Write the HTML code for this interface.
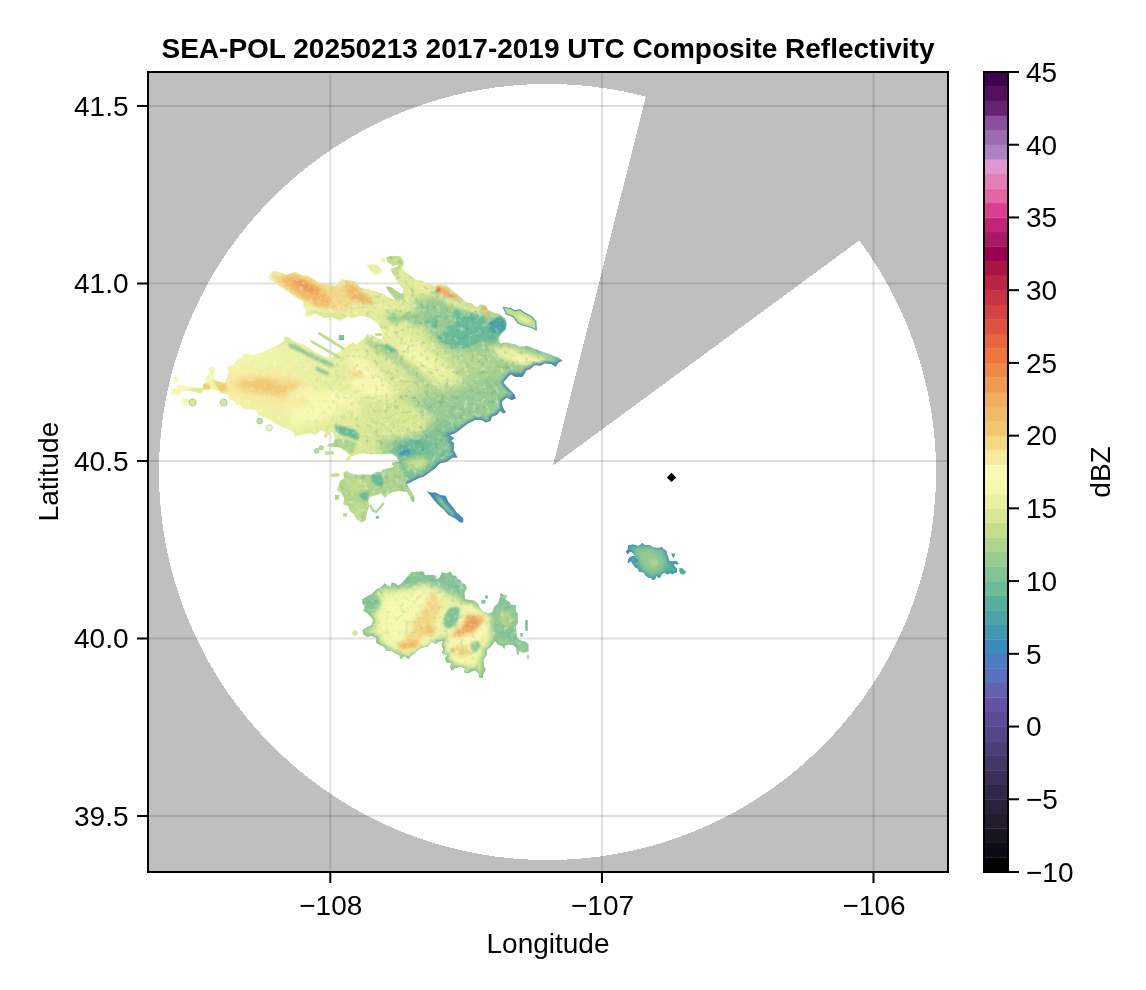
<!DOCTYPE html>
<html><head><meta charset="utf-8"><title>SEA-POL Composite Reflectivity</title>
<style>
html,body{margin:0;padding:0;background:#fff;}
svg{display:block;}
text{font-family:"Liberation Sans",sans-serif;fill:#000;}
.t{font-size:28px;}
</style></head><body>
<svg width="1146" height="990" viewBox="0 0 1146 990">
<rect width="1146" height="990" fill="#fff"/>
<defs>
<clipPath id="axclip"><rect x="148" y="72" width="800" height="800"/></clipPath>
<filter id="b1" x="-20%" y="-20%" width="140%" height="140%"><feGaussianBlur stdDeviation="1"/></filter>
<filter id="b2" x="-20%" y="-20%" width="140%" height="140%"><feGaussianBlur stdDeviation="2"/></filter>
<filter id="b3" x="-30%" y="-30%" width="160%" height="160%"><feGaussianBlur stdDeviation="3.5"/></filter>
<filter id="b5" x="-30%" y="-30%" width="160%" height="160%"><feGaussianBlur stdDeviation="6"/></filter>
</defs>

<rect x="148" y="72" width="800" height="800" fill="#bfbfbf"/>
<polygon points="553,465.5 859.2,240.5 862.5,244.8 865.6,249.3 868.7,253.7 871.7,258.3 874.7,262.8 877.6,267.4 880.5,272.1 883.2,276.8 885.9,281.5 888.6,286.2 891.2,291 893.7,295.9 896.1,300.7 898.5,305.6 900.8,310.5 903,315.5 905.2,320.5 907.3,325.5 909.3,330.6 911.2,335.7 913.1,340.8 914.9,345.9 916.6,351 918.3,356.2 919.9,361.4 921.4,366.7 922.8,371.9 924.2,377.2 925.5,382.5 926.7,387.8 927.9,393.1 928.9,398.4 929.9,403.8 930.9,409.1 931.7,414.5 932.5,419.9 933.2,425.3 933.8,430.7 934.3,436.1 934.8,441.5 935.2,446.9 935.5,452.4 935.7,457.8 935.9,463.2 936,468.7 936,474.1 935.9,479.6 935.8,485 935.6,490.4 935.3,495.9 934.9,501.3 934.4,506.7 933.9,512.1 933.3,517.5 932.6,522.9 931.9,528.3 931.1,533.7 930.2,539.1 929.2,544.4 928.1,549.7 927,555.1 925.8,560.4 924.5,565.7 923.2,570.9 921.7,576.2 920.2,581.4 918.7,586.6 917,591.8 915.3,597 913.5,602.1 911.6,607.2 909.7,612.3 907.7,617.4 905.6,622.4 903.5,627.4 901.3,632.3 899,637.3 896.6,642.2 894.2,647.1 891.7,651.9 889.2,656.7 886.5,661.5 883.8,666.2 881.1,670.9 878.3,675.5 875.4,680.1 872.4,684.7 869.4,689.2 866.3,693.7 863.2,698.2 860,702.6 856.7,706.9 853.4,711.2 850,715.5 846.5,719.7 843,723.9 839.5,728 835.8,732 832.2,736.1 828.4,740 824.6,743.9 820.8,747.8 816.9,751.6 812.9,755.3 808.9,759 804.9,762.6 800.8,766.2 796.6,769.7 792.4,773.2 788.2,776.6 783.9,779.9 779.5,783.2 775.1,786.4 770.7,789.6 766.2,792.7 761.7,795.7 757.1,798.7 752.5,801.6 747.9,804.4 743.2,807.2 738.5,809.9 733.7,812.5 728.9,815.1 724.1,817.6 719.2,820.1 714.3,822.4 709.4,824.7 704.4,827 699.4,829.1 694.4,831.2 689.3,833.2 684.2,835.2 679.1,837.1 674,838.9 668.8,840.6 663.6,842.3 658.4,843.9 653.2,845.4 647.9,846.8 642.7,848.2 637.4,849.5 632.1,850.7 626.7,851.8 621.4,852.9 616,853.9 610.7,854.8 605.3,855.7 599.9,856.5 594.5,857.1 589.1,857.8 583.7,858.3 578.3,858.8 572.8,859.2 567.4,859.5 561.9,859.7 556.5,859.9 551,860 545.6,860 540.2,859.9 534.7,859.8 529.3,859.6 523.8,859.3 518.4,858.9 513,858.5 507.5,857.9 502.1,857.3 496.7,856.7 491.3,855.9 485.9,855.1 480.6,854.2 475.2,853.2 469.9,852.2 464.5,851.1 459.2,849.9 453.9,848.6 448.7,847.2 443.4,845.8 438.2,844.3 432.9,842.8 427.8,841.1 422.6,839.4 417.4,837.6 412.3,835.8 407.2,833.8 402.2,831.8 397.1,829.8 392.1,827.6 387.1,825.4 382.2,823.1 377.3,820.8 372.4,818.4 367.6,815.9 362.8,813.3 358,810.7 353.2,808 348.5,805.3 343.9,802.4 339.3,799.6 334.7,796.6 330.2,793.6 325.7,790.5 321.2,787.4 316.8,784.2 312.4,780.9 308.1,777.6 303.9,774.2 299.6,770.8 295.5,767.3 291.4,763.7 287.3,760.1 283.3,756.4 279.3,752.7 275.4,748.9 271.5,745.1 267.7,741.2 264,737.3 260.3,733.3 256.6,729.2 253.1,725.1 249.5,721 246.1,716.8 242.7,712.5 239.3,708.2 236,703.9 232.8,699.5 229.6,695.1 226.5,690.6 223.5,686.1 220.5,681.5 217.6,676.9 214.8,672.3 212,667.6 209.3,662.9 206.6,658.2 204.1,653.4 201.5,648.5 199.1,643.7 196.7,638.8 194.4,633.9 192.2,628.9 190,623.9 187.9,618.9 185.9,613.8 183.9,608.8 182,603.6 180.2,598.5 178.5,593.4 176.8,588.2 175.2,583 173.7,577.8 172.3,572.5 170.9,567.3 169.6,562 168.4,556.7 167.2,551.4 166.1,546 165.1,540.7 164.2,535.3 163.4,529.9 162.6,524.6 161.9,519.2 161.3,513.8 160.7,508.3 160.2,502.9 159.8,497.5 159.5,492.1 159.3,486.6 159.1,481.2 159,475.8 159,470.3 159.1,464.9 159.2,459.4 159.4,454 159.7,448.6 160.1,443.2 160.5,437.7 161,432.3 161.6,426.9 162.3,421.5 163.1,416.1 163.9,410.7 164.8,405.4 165.7,400 166.8,394.7 167.9,389.4 169.1,384.1 170.4,378.8 171.7,373.5 173.1,368.2 174.6,363 176.2,357.8 177.8,352.6 179.6,347.5 181.3,342.3 183.2,337.2 185.1,332.1 187.1,327.1 189.2,322 191.3,317 193.5,312 195.8,307.1 198.2,302.2 200.6,297.3 203.1,292.5 205.6,287.7 208.3,282.9 210.9,278.2 213.7,273.5 216.5,268.8 219.4,264.2 222.4,259.6 225.4,255.1 228.4,250.6 231.6,246.2 234.8,241.8 238,237.4 241.4,233.1 244.7,228.8 248.2,224.6 251.7,220.5 255.3,216.4 258.9,212.3 262.5,208.3 266.3,204.3 270.1,200.4 273.9,196.5 277.8,192.7 281.7,189 285.7,185.3 289.8,181.7 293.9,178.1 298,174.6 302.2,171.1 306.5,167.7 310.8,164.3 315.1,161.1 319.5,157.8 323.9,154.7 328.4,151.6 332.9,148.5 337.5,145.6 342.1,142.7 346.8,139.8 351.4,137 356.2,134.3 360.9,131.7 365.7,129.1 370.5,126.6 375.4,124.1 380.3,121.8 385.2,119.5 390.2,117.2 395.2,115.1 400.2,113 405.3,110.9 410.4,109 415.5,107.1 420.6,105.3 425.8,103.5 431,101.9 436.2,100.3 441.4,98.8 446.6,97.3 451.9,95.9 457.2,94.6 462.5,93.4 467.8,92.2 473.2,91.2 478.5,90.2 483.9,89.2 489.3,88.4 494.7,87.6 500.1,86.9 505.5,86.3 510.9,85.7 516.3,85.3 521.7,84.9 527.2,84.5 532.6,84.3 538.1,84.1 543.5,84 549,84 554.4,84.1 559.9,84.2 565.3,84.4 570.7,84.7 576.2,85.1 581.6,85.5 587,86 592.4,86.6 597.8,87.3 603.2,88 608.6,88.8 614,89.7 619.4,90.7 624.7,91.7 630,92.9 635.3,94 640.6,95.3 645.9,96.7" fill="#fff" shape-rendering="crispEdges"/>
<rect x="329.3" y="72" width="2" height="800" fill="#000" fill-opacity="0.12"/>
<rect x="601" y="72" width="2" height="800" fill="#000" fill-opacity="0.12"/>
<rect x="872.5" y="72" width="2" height="800" fill="#000" fill-opacity="0.12"/>
<rect x="148" y="105" width="800" height="2" fill="#000" fill-opacity="0.12"/>
<rect x="148" y="282.5" width="800" height="2" fill="#000" fill-opacity="0.12"/>
<rect x="148" y="460" width="800" height="2" fill="#000" fill-opacity="0.12"/>
<rect x="148" y="637.5" width="800" height="2" fill="#000" fill-opacity="0.12"/>
<rect x="148" y="815" width="800" height="2" fill="#000" fill-opacity="0.12"/>
<defs>
<clipPath id="cbody"><polygon points="268.3,276.7 273.3,270.8 278.3,271.7 286.7,275 295,271.7 301.7,275 308.3,275.8 313.3,279.2 321.7,284.2 328.3,284.2 335,285.8 341.7,279.2 348.3,280 356,281.7 360,287.5 371.7,290 382.5,293.7 393.7,300 395,299.3 387.3,290.3 385.8,286.3 390.7,287 395.2,290 400,293 401.7,294 403.7,290 397.2,281.3 391.2,270.8 390.8,269.2 396.7,266.7 399.2,264.2 392.5,265.8 387.5,261.7 385.8,257.5 391.7,255.8 400,256.3 403.7,260.8 403.3,265.8 400.8,267.5 405,271.7 410.8,275.8 416.7,280 421.7,280.8 427.5,283.3 433.3,285.8 440.8,284.2 446.7,285.8 451.7,290 456.7,293.3 461.7,298.3 466.7,302.5 471.7,303.3 476.7,307.5 480,304.2 485,305 488.3,310 493.3,312.5 500,314.2 505,318.3 506.7,323.3 505.8,329.2 501.7,333.3 498.3,338.3 500,343.3 506.7,342.5 515,344.2 520,346.7 526.7,345.8 533.3,348.3 540,350.8 546.7,353.3 553.3,355.8 558.3,357.5 562.5,360.8 558.3,362.5 555.8,366.7 551.7,364.2 545,363.3 540,365.8 535,365 530,369.2 526.7,370 522.5,376.7 515,376.7 510.8,374.2 506.7,378.3 503.3,382.5 506.7,386.7 510.8,390.8 514.2,394.2 515.8,398.3 511.7,400 506.7,397.5 501.7,401.7 502.5,406.7 505.8,412.5 503.3,413.3 500,410.8 496.7,415 491.7,416.7 490.8,420.8 485.8,422.5 481.7,420 475,420 468.3,423.3 461.7,428.3 455,433.3 449.2,435 454.2,438.3 450.8,440.8 454.2,443.3 453.3,450 457.5,457.5 452.5,457.5 446.7,461.7 440,463.3 435,468.3 428.3,473.3 423.3,476.7 420,477.5 413.3,480.8 406.7,484.2 409.2,488.3 412.5,493.3 414.7,498.3 414.2,502.5 410.8,500.8 410,496.7 406.7,491.7 400,490.8 393.3,491.7 388.3,494.2 385,498.3 380.8,493.3 376.7,495 370,496.7 368.3,500 369.2,506.7 366.7,513.3 365.8,520 361.7,522.5 356.7,519.2 353.3,513.3 350,511.7 348.3,505.8 343.3,505 344.2,498.3 341.7,493.3 336.7,490.8 338.3,486.7 340,480.8 344.2,478.3 343.3,473.3 346.7,470.8 350,473.3 358.3,475 363.3,474.2 371.7,475 376.7,471.7 380.8,471.7 383.3,469.2 390,468.3 394.2,466.7 391.7,463.3 395,461.7 399.2,461.7 396.7,456.7 391.7,453.3 381.7,454.2 370,454.2 363.3,453.3 356.7,454.2 350.8,456.7 349.2,461.7 345,461.7 346.7,457.5 350,455.8 345,450.8 340,447.5 334.2,446.7 327.5,446.7 327.5,444.2 333.3,443.3 335,438.3 332.5,431.7 330,432.5 326.7,438.3 323.3,436.7 325,431.7 320.8,430 315,435.8 311.7,433.3 305,434.2 298.3,435 295,437.5 294.2,433.3 290,430 280,426 270,420 258.3,415 255.8,410 246.7,409.2 241.7,408.3 241.7,405.8 236.7,405 234.2,400.8 229.2,400 228.3,395 220.8,393.3 218.3,390.8 211.7,389.2 203.3,390 202.5,393.3 198.3,393.3 190,390.8 180.8,391.7 179.2,394.7 170.8,394.2 170.8,391.7 171.7,389.2 176.7,388.3 177.5,385 183.3,385.8 190,387.5 195.8,387.5 202.5,388.3 203.3,384.2 206.7,381.7 205,379.2 209.2,373.3 209.2,367.5 214.2,366.7 215,370 213.3,375 214.2,380 220,381.7 225,383.3 227.5,376.7 228.3,370 227.5,366.7 233.3,365 236.7,360 243.3,356.7 243.3,353.3 248.3,354.2 255,355 263.3,351.7 266.7,350 275,346.7 280,344.2 284.2,340.8 284.2,336.7 288.3,336.7 293.3,340.8 303.3,344.2 315,351.7 325,356.7 331.7,358.3 341.7,350 348.3,345 352.5,342.5 356,344.2 356.7,345 360,340.8 365,338.3 366.7,334.2 371.7,335 378.3,338.3 382.5,340 382.5,333.3 380.8,328.3 376.7,322.5 371.7,319.2 366.7,316.7 360,315.8 355,317.5 350,318.3 348.3,316.7 340,320.8 331.7,316.7 325,318.3 315,313.3 308.3,317.5 304.2,315.8 306.7,311.7 303.3,306.7 303.3,301.7 295,296.7 288.3,291.7 281.7,287.5 275,282.5 270,280"/></clipPath>
<linearGradient id="gbody" gradientUnits="userSpaceOnUse" x1="200" y1="300" x2="520" y2="440"><stop offset="0" stop-color="#f6f8ae"/><stop offset="0.4" stop-color="#e9f0a0"/><stop offset="0.62" stop-color="#d9e794"/><stop offset="0.82" stop-color="#afd48e"/><stop offset="1" stop-color="#84c396"/></linearGradient>
</defs>
<defs><filter id="nz" x="0" y="0" width="100%" height="100%" color-interpolation-filters="sRGB"><feTurbulence type="fractalNoise" baseFrequency="0.22" numOctaves="2" seed="7" result="n"/><feColorMatrix in="n" type="matrix" values="0 0 0 0 1  0 0 0 0 1  0 0 0 0 1  3.2 0 0 0 -1.75"/></filter><filter id="nz2" x="0" y="0" width="100%" height="100%" color-interpolation-filters="sRGB"><feTurbulence type="fractalNoise" baseFrequency="0.2" numOctaves="2" seed="23" result="n"/><feColorMatrix in="n" type="matrix" values="0 0 0 0 0.25  0 0 0 0 0.55  0 0 0 0 0.45  0 3.2 0 0 -1.75"/></filter></defs>
<g id="echo">
<polygon points="268.3,276.7 273.3,270.8 278.3,271.7 286.7,275 295,271.7 301.7,275 308.3,275.8 313.3,279.2 321.7,284.2 328.3,284.2 335,285.8 341.7,279.2 348.3,280 356,281.7 360,287.5 371.7,290 382.5,293.7 393.7,300 395,299.3 387.3,290.3 385.8,286.3 390.7,287 395.2,290 400,293 401.7,294 403.7,290 397.2,281.3 391.2,270.8 390.8,269.2 396.7,266.7 399.2,264.2 392.5,265.8 387.5,261.7 385.8,257.5 391.7,255.8 400,256.3 403.7,260.8 403.3,265.8 400.8,267.5 405,271.7 410.8,275.8 416.7,280 421.7,280.8 427.5,283.3 433.3,285.8 440.8,284.2 446.7,285.8 451.7,290 456.7,293.3 461.7,298.3 466.7,302.5 471.7,303.3 476.7,307.5 480,304.2 485,305 488.3,310 493.3,312.5 500,314.2 505,318.3 506.7,323.3 505.8,329.2 501.7,333.3 498.3,338.3 500,343.3 506.7,342.5 515,344.2 520,346.7 526.7,345.8 533.3,348.3 540,350.8 546.7,353.3 553.3,355.8 558.3,357.5 562.5,360.8 558.3,362.5 555.8,366.7 551.7,364.2 545,363.3 540,365.8 535,365 530,369.2 526.7,370 522.5,376.7 515,376.7 510.8,374.2 506.7,378.3 503.3,382.5 506.7,386.7 510.8,390.8 514.2,394.2 515.8,398.3 511.7,400 506.7,397.5 501.7,401.7 502.5,406.7 505.8,412.5 503.3,413.3 500,410.8 496.7,415 491.7,416.7 490.8,420.8 485.8,422.5 481.7,420 475,420 468.3,423.3 461.7,428.3 455,433.3 449.2,435 454.2,438.3 450.8,440.8 454.2,443.3 453.3,450 457.5,457.5 452.5,457.5 446.7,461.7 440,463.3 435,468.3 428.3,473.3 423.3,476.7 420,477.5 413.3,480.8 406.7,484.2 409.2,488.3 412.5,493.3 414.7,498.3 414.2,502.5 410.8,500.8 410,496.7 406.7,491.7 400,490.8 393.3,491.7 388.3,494.2 385,498.3 380.8,493.3 376.7,495 370,496.7 368.3,500 369.2,506.7 366.7,513.3 365.8,520 361.7,522.5 356.7,519.2 353.3,513.3 350,511.7 348.3,505.8 343.3,505 344.2,498.3 341.7,493.3 336.7,490.8 338.3,486.7 340,480.8 344.2,478.3 343.3,473.3 346.7,470.8 350,473.3 358.3,475 363.3,474.2 371.7,475 376.7,471.7 380.8,471.7 383.3,469.2 390,468.3 394.2,466.7 391.7,463.3 395,461.7 399.2,461.7 396.7,456.7 391.7,453.3 381.7,454.2 370,454.2 363.3,453.3 356.7,454.2 350.8,456.7 349.2,461.7 345,461.7 346.7,457.5 350,455.8 345,450.8 340,447.5 334.2,446.7 327.5,446.7 327.5,444.2 333.3,443.3 335,438.3 332.5,431.7 330,432.5 326.7,438.3 323.3,436.7 325,431.7 320.8,430 315,435.8 311.7,433.3 305,434.2 298.3,435 295,437.5 294.2,433.3 290,430 280,426 270,420 258.3,415 255.8,410 246.7,409.2 241.7,408.3 241.7,405.8 236.7,405 234.2,400.8 229.2,400 228.3,395 220.8,393.3 218.3,390.8 211.7,389.2 203.3,390 202.5,393.3 198.3,393.3 190,390.8 180.8,391.7 179.2,394.7 170.8,394.2 170.8,391.7 171.7,389.2 176.7,388.3 177.5,385 183.3,385.8 190,387.5 195.8,387.5 202.5,388.3 203.3,384.2 206.7,381.7 205,379.2 209.2,373.3 209.2,367.5 214.2,366.7 215,370 213.3,375 214.2,380 220,381.7 225,383.3 227.5,376.7 228.3,370 227.5,366.7 233.3,365 236.7,360 243.3,356.7 243.3,353.3 248.3,354.2 255,355 263.3,351.7 266.7,350 275,346.7 280,344.2 284.2,340.8 284.2,336.7 288.3,336.7 293.3,340.8 303.3,344.2 315,351.7 325,356.7 331.7,358.3 341.7,350 348.3,345 352.5,342.5 356,344.2 356.7,345 360,340.8 365,338.3 366.7,334.2 371.7,335 378.3,338.3 382.5,340 382.5,333.3 380.8,328.3 376.7,322.5 371.7,319.2 366.7,316.7 360,315.8 355,317.5 350,318.3 348.3,316.7 340,320.8 331.7,316.7 325,318.3 315,313.3 308.3,317.5 304.2,315.8 306.7,311.7 303.3,306.7 303.3,301.7 295,296.7 288.3,291.7 281.7,287.5 275,282.5 270,280" fill="url(#gbody)"/>
<g clip-path="url(#cbody)">
<polygon points="271.7,272.5 291.7,272.5 315,278.3 331.7,285.8 356,283.3 356,305 341.7,311.7 325,308.3 308.3,303.3 298.3,296.7 285,288.3 273.3,280" fill="#f3d985" filter="url(#b2)" opacity="1"/>
<polygon points="280,277.5 288.3,275 296.7,275 303.3,279.2 311.7,283.3 320,288.3 325,293.3 330,295.8 331.7,301.7 325,306.7 315,305 308.3,300 298.3,295 290,290 283.3,284.2" fill="#f0ba68" filter="url(#b2)" opacity="1"/>
<polygon points="293.3,279.2 301.7,280 311.7,285.8 320,290.8 318.3,295 308.3,291.7 300,287.5 294.2,283.3" fill="#ee9a52" filter="url(#b2)" opacity="1"/>
<polygon points="345,283.3 356,285.8 361.7,291.7 371.7,298.3 373.3,303.3 365,305 356,300 346.7,295" fill="#f0ba68" filter="url(#b2)" opacity="1"/>
<polygon points="304.2,315.8 315,313.3 325,318.3 340,320.8 348.3,316.7 348.3,314.2 331.7,313.3 315,310.8 306.7,311.7" fill="#d9e794" filter="url(#b1)" opacity="1"/>
<polygon points="215,381.7 228.3,373.3 245,373.3 265,370 291.7,373.3 311.7,383.3 315,400 301.7,410 281.7,408.3 258.3,405 238.3,396.7 221.7,393.3" fill="#f6eaa0" filter="url(#b3)" opacity="1"/>
<polygon points="235,381.7 251.7,378.3 268.3,378.3 285,383.3 301.7,381.7 295,391.7 281.7,396.7 265,393.3 251.7,391.7 238.3,388.3" fill="#f1c870" filter="url(#b3)" opacity="1"/>
<polygon points="255,381.7 268.3,380 271.7,386.7 261.7,390 255,386.7" fill="#f1c870" filter="url(#b2)" opacity="1"/>
<polygon points="202.5,383.3 209.2,383.3 210,389.2 203.3,389.7" fill="#f1c870" filter="url(#b1)" opacity="1"/>
<polygon points="213.3,380 225,383.3 228.3,390 221.7,393.3 218.3,388.3" fill="#f1c870" filter="url(#b1)" opacity="1"/>
<polygon points="190,387.5 202.5,388.3 202.5,393.3 190,390.8" fill="#d9e794" filter="url(#b1)" opacity="1"/>
<polygon points="287.5,342.5 293.3,343.3 305,350 320,357.5 333.3,363.3 334.2,367.5 325,365 311.7,358.3 298.3,351.7 289.2,347.5" fill="#99cb92" filter="url(#b1)" opacity="1"/>
<polygon points="316.7,366.7 329.2,372.5 328.3,375.8 315.8,370" fill="#84c396" filter="url(#b1)" opacity="1"/>
<polygon points="275,346.7 284.2,336.7 288.3,336.7 291.7,340.8 281.7,345.8" fill="#d9e794" filter="url(#b1)" opacity="1"/>
<polygon points="380,328.3 393.3,325 413.3,336.7 436.7,353.3 456.7,373.3 466.7,393.3 453.3,400 436.7,383.3 416.7,366.7 396.7,350 383.3,340" fill="#e9f0a0" filter="url(#b3)" opacity="1"/>
<polygon points="400,343.3 420,350 436.7,363.3 430,370 413.3,360 400,351.7" fill="#f6f8ae" filter="url(#b3)" opacity="0.8"/>
<polygon points="385.8,315 393.3,311.7 400,316.7 403.3,313.3 416.7,312.5 423.3,315 421.7,323.3 416.7,327.5 410,321.7 403.3,320 398.3,323.3 391.7,323.3 386.7,320" fill="#99cb92" filter="url(#b2)" opacity="1"/>
<polygon points="413.3,300 436.7,296.7 456.7,305 476.7,311.7 493.3,316.7 505,320 506.7,330 500,340 493.3,350 476.7,353.3 456.7,351.7 443.3,346.7 433.3,336.7 423.3,326.7 416.7,313.3" fill="#99cb92" filter="url(#b3)" opacity="1"/>
<polygon points="436.7,336.7 443.3,333.3 450,330 445,328.3 448.3,325 454.2,325 456.7,320 453.3,311.7 456.7,308.3 460.8,313.3 466.7,316.7 470,310 476.7,315 483.3,314.2 485,320 488.3,323.3 493.3,320 500,316.7 505.8,321.7 505.8,329.2 500,333.3 496.7,340 491.7,343.3 483.3,340 478.3,343.3 473.3,345 466.7,346.7 460,346.7 453.3,348.3 446.7,343.3 440,341.7" fill="#6bba98" filter="url(#b1)" opacity="1"/>
<polygon points="488.3,323.3 493.3,320 500,316.7 505.8,321.7 505.8,329.2 500,333.3 495,333.3 490,330" fill="#4ca3a5" filter="url(#b1)" opacity="1"/>
<ellipse cx="434.5" cy="323.3333333333333" rx="3.2" ry="5" fill="#6bba98" filter="url(#b1)" opacity="1" transform="rotate(0 434.5 323.3333333333333)"/>
<ellipse cx="427.8333333333333" cy="322.5" rx="2.3" ry="3" fill="#6bba98" filter="url(#b1)" opacity="1" transform="rotate(0 427.8333333333333 322.5)"/>
<polygon points="416.7,280.8 427.5,283.3 433.3,285.8 430,291.7 421.7,291.7 417.5,287.5" fill="#f6eaa0" filter="url(#b2)" opacity="1"/>
<polygon points="435.8,286.7 443.3,287.5 450,291.7 456.7,296.7 460,300 453.3,299.2 445,295.8 438.3,292.5" fill="#efad60" filter="url(#b1)" opacity="1"/>
<ellipse cx="438.3333333333333" cy="289.6666666666667" rx="1.6" ry="2.4" fill="#de5340" filter="url(#b1)" opacity="1" transform="rotate(0 438.3333333333333 289.6666666666667)"/>
<polygon points="481.7,305.8 486.7,307.5 489.2,315 485.8,315.8 483.3,310.8" fill="#f0ba68" filter="url(#b1)" opacity="1"/>
<polygon points="443.3,300 450,300 466.7,305 476.7,308.3 483.3,316.7 476.7,313.3 463.3,308.3 450,305" fill="#e9f0a0" filter="url(#b2)" opacity="1"/>
<polygon points="385.8,255 405,255 405,268.3 400,270 393.3,278.3 390,270 391.7,266.7 385.8,261.7" fill="#c3dd8b" filter="url(#b1)" opacity="1"/>
<polygon points="385.8,285.8 391.7,286.7 401.7,293.7 405,300 395,300 387,290" fill="#afd48e" filter="url(#b1)" opacity="1"/>
<polygon points="375,345 381.7,344.2 388.3,345 396.7,350 398.3,354.2 391.7,353.3 383.3,351.7 377.5,349.2" fill="#6bba98" filter="url(#b1)" opacity="1"/>
<polygon points="366.7,336.7 376.7,343.3 400,356.7 423.3,376.7 433.3,388.3 428.3,391.7 416.7,380 396.7,363.3 375,350 365,343.3" fill="#afd48e" filter="url(#b2)" opacity="1"/>
<polygon points="350,350 363.3,356.7 376.7,370 390,386.7 393.3,406.7 376.7,415 350,415" fill="#f6f8ae" filter="url(#b3)" opacity="1"/>
<polygon points="350,370 360,371.7 365,376.7 356.7,378.3 350,376.7" fill="#f3d985" filter="url(#b2)" opacity="1"/>
<polygon points="490,348.3 506.7,346.7 523.3,351.7 543.3,356.7 553.3,360 540,363.3 526.7,365 513.3,363.3 500,358.3" fill="#e9f0a0" filter="url(#b2)" opacity="1"/>
<polygon points="510,356.7 523.3,356.7 536.7,360 526.7,363.3 513.3,361.7" fill="#f6f8ae" filter="url(#b2)" opacity="1"/>
<polygon points="513.3,372.5 523.3,373.3 526.7,370 522.5,377.5 515,377.5" fill="#3d8bbd" filter="url(#b1)" opacity="1"/>
<polygon points="493.3,391.7 498.3,393.3 501.7,398.3 497.5,398.3 494.2,395.8" fill="#5a72bd" filter="url(#b1)" opacity="1"/>
<polygon points="510,395 516.7,395.8 515.8,399.2 510.8,400" fill="#3d8bbd" filter="url(#b1)" opacity="1"/>
<polygon points="483.3,381.7 491.7,381.7 495,388.3 490,395 485.8,393.3 486.7,386.7" fill="#58ae9e" filter="url(#b1)" opacity="1"/>
<ellipse cx="504.1666666666667" cy="412.5" rx="1.6" ry="1.6" fill="#6552a5" filter="url(#b1)" opacity="1" transform="rotate(0 504.1666666666667 412.5)"/>
<polygon points="383.3,413.3 406.7,400 440,390 481,380 506.7,373.3 506.7,406.7 481,420.8 455,430 453.3,456.7 433.3,470 413.3,480.8 396.7,476.7 390,460 380,440" fill="#99cb92" filter="url(#b5)" opacity="1"/>
<polygon points="393.3,440 416.7,433.3 440,431.7 455,430 453.3,456.7 440,465 426.7,475 406.7,483.3 396.7,476.7 390,463.3 393.3,453.3" fill="#99cb92" filter="url(#b3)" opacity="1"/>
<polygon points="395,435 420,428 455,420 470,440 450,465 420,480 400,490 385,470" fill="#84c396" filter="url(#b3)" opacity="1"/>
<polygon points="393.3,446.7 406.7,440 423.3,438.3 433.3,445 426.7,453.3 413.3,456.7 400,456.7" fill="#6bba98" filter="url(#b2)" opacity="1"/>
<polygon points="399.2,450 410,449.2 410.8,454.2 403.3,455.8 398.3,454.2" fill="#4296b2" filter="url(#b1)" opacity="1"/>
<polygon points="406.7,460 423.3,456.7 430,463.3 420,470 406.7,468.3" fill="#c3dd8b" filter="url(#b2)" opacity="1"/>
<polygon points="290,390 340,390 353.3,400 340,413.3 316.7,423.3 290,426.7" fill="#f6f8ae" filter="url(#b3)" opacity="1"/>
<polygon points="290,393.3 303.3,395 310,403.3 300,408.3 290,405" fill="#f6eaa0" filter="url(#b2)" opacity="1"/>
<polygon points="356.7,396.7 406.7,400 433.3,416.7 423.3,433.3 390,440 370,433.3 360,416.7" fill="#d9e794" filter="url(#b3)" opacity="1"/>
<polygon points="334.2,425 340,425.8 346.7,427.5 353.3,429.2 358.3,433.3 359.2,438.3 355,440 348.3,436.7 341.7,435 336.7,431.7" fill="#6bba98" filter="url(#b1)" opacity="1"/>
<polygon points="345.8,445.8 352.5,445.8 349.2,450.8" fill="#58ae9e" filter="url(#b1)" opacity="1"/>
<polygon points="328.3,440 345,438.3 356.7,443.3 353.3,453.3 340,448.3 327.5,446.7" fill="#afd48e" filter="url(#b1)" opacity="1"/>
<polygon points="336.7,470 360,473.3 383.3,470 396.7,460 406.7,483.3 413.3,503.3 390,493.3 370,496.7 366.7,523.3 353.3,516.7 340,496.7" fill="#afd48e" filter="url(#b2)" opacity="1"/>
<polygon points="345,480 360,476.7 368.3,486.7 356.7,493.3 346.7,490" fill="#c3dd8b" filter="url(#b2)" opacity="1"/>
<polygon points="370,475 380.8,473.3 384.2,483.3 380,487.5 373.3,483.3" fill="#6bba98" filter="url(#b1)" opacity="1"/>
<polygon points="359.2,493.3 368.3,492.5 369.2,499.2 360.8,500.8" fill="#6bba98" filter="url(#b1)" opacity="1"/>
<polygon points="353.3,503.3 363.3,501.7 365,516.7 360,521.7 355,513.3" fill="#c3dd8b" filter="url(#b2)" opacity="1"/>
<polygon points="385,478.3 400,473.3 406.7,483.3 396.7,490 388.3,488.3" fill="#afd48e" filter="url(#b2)" opacity="1"/>
<rect x="165" y="250" width="405" height="280" fill="#fff" filter="url(#nz)" opacity="0.4"/>
<defs><linearGradient id="mg" gradientUnits="userSpaceOnUse" x1="290" y1="0" x2="390" y2="0"><stop offset="0" stop-color="#000"/><stop offset="1" stop-color="#fff"/></linearGradient><mask id="mk" maskUnits="userSpaceOnUse" x="165" y="250" width="405" height="280"><rect x="165" y="250" width="405" height="280" fill="url(#mg)"/></mask></defs>
<g mask="url(#mk)"><rect x="165" y="250" width="405" height="280" fill="#fff" filter="url(#nz2)" opacity="0.3"/></g>
</g>
<g clip-path="url(#cbody)"><polyline points="562.5,360.8 558.3,362.5 555.8,366.7 551.7,364.2 545,363.3 540,365.8 535,365 530,369.2 526.7,370 522.5,376.7 515,376.7 510.8,374.2 506.7,378.3 503.3,382.5 506.7,386.7 510.8,390.8 514.2,394.2 515.8,398.3 511.7,400 506.7,397.5 501.7,401.7 502.5,406.7 505.8,412.5 503.3,413.3 500,410.8 496.7,415 491.7,416.7 490.8,420.8 485.8,422.5 481.7,420 475,420 468.3,423.3 461.7,428.3 455,433.3 449.2,435 454.2,438.3 450.8,440.8 454.2,443.3 453.3,450 457.5,457.5 452.5,457.5 446.7,461.7 440,463.3 435,468.3 428.3,473.3 423.3,476.7 420,477.5 413.3,480.8 406.7,484.2" fill="none" stroke="#4296b2" stroke-width="5" filter="url(#b1)" opacity="0.75"/><polyline points="562.5,360.8 558.3,362.5 555.8,366.7 551.7,364.2 545,363.3 540,365.8 535,365 530,369.2 526.7,370 522.5,376.7 515,376.7 510.8,374.2 506.7,378.3 503.3,382.5 506.7,386.7 510.8,390.8 514.2,394.2 515.8,398.3 511.7,400 506.7,397.5 501.7,401.7 502.5,406.7 505.8,412.5 503.3,413.3 500,410.8 496.7,415 491.7,416.7 490.8,420.8 485.8,422.5 481.7,420 475,420 468.3,423.3 461.7,428.3 455,433.3 449.2,435 454.2,438.3 450.8,440.8 454.2,443.3 453.3,450 457.5,457.5 452.5,457.5 446.7,461.7 440,463.3 435,468.3 428.3,473.3 423.3,476.7 420,477.5 413.3,480.8 406.7,484.2" fill="none" stroke="#6560b0" stroke-width="1.6" filter="url(#b1)" opacity="0.7"/></g>
<line x1="319.2" y1="333.3" x2="343.3" y2="348.7" stroke="#c3dd8b" stroke-width="2.6" stroke-linecap="round"/>
<line x1="311.7" y1="341.7" x2="339.2" y2="357.5" stroke="#c3dd8b" stroke-width="2.6" stroke-linecap="round"/>
<line x1="323.3" y1="335.8" x2="331.7" y2="340.8" stroke="#c3dd8b" stroke-width="2.6" stroke-linecap="round"/>
<circle cx="185.0" cy="401.7" r="3.6" fill="#f6f8ae"/>
<circle cx="192.5" cy="402.5" r="3.6" fill="#d9e794" stroke="#4ca3a5" stroke-width="0.6" stroke-opacity="0.7"/>
<circle cx="223.7" cy="402.5" r="3.6" fill="#d9e794" stroke="#4ca3a5" stroke-width="0.6" stroke-opacity="0.7"/>
<circle cx="175.8" cy="379.2" r="2.6" fill="#f6f8ae"/>
<polygon points="339.2,335.3 343.7,335.3 343.7,340 339.2,340" fill="#84c396" stroke="#4b7dc0" stroke-width="0.6" stroke-opacity="0.7"/>
<circle cx="259.7" cy="421.0" r="3" fill="#c3dd8b" stroke="#58ae9e" stroke-width="0.6" stroke-opacity="0.7"/>
<circle cx="269.3" cy="427.8" r="3" fill="#f6f8ae" stroke="#58ae9e" stroke-width="0.6" stroke-opacity="0.7"/>
<polygon points="366.7,264.7 376.7,264.2 381.7,270 380.8,273.3 375,275 370,270" fill="#e9f0a0"/>
<polygon points="381.3,257.5 385.3,257.5 385.3,262.5 381.3,262.5" fill="#f6f8ae"/>
<polygon points="375,333.3 381.7,333 382,335.8 375.3,336" fill="#c3dd8b"/>
<polygon points="503.3,307.5 510,308.3 515,310.8 520,310 525,313.3 531.7,316.7 535.8,321.7 536.3,330 531.7,327.5 525,325.8 518.3,323.3 513.3,316.7 506.7,314.2" fill="#c3dd8b" stroke="#4ca3a5" stroke-width="1.2"/>
<polygon points="516.7,315 525,316.7 531.7,321.7 526.7,323.3 520,320" fill="#e9f0a0" filter="url(#b1)" opacity="1"/>
<polygon points="335,495 339.2,495 339.2,499.7 335,499.7" fill="#afd48e"/>
<polygon points="343,513 347,513 347,516.7 343,516.7" fill="#c3dd8b"/>
<polygon points="375.8,515.8 378.8,515.8 378.8,518.8 375.8,518.8" fill="#84c396"/>
<polygon points="330.8,474.2 335,473 339.2,473.3 339.2,476.7 330.8,476.7" fill="#c3dd8b"/>
<polygon points="325,451.3 333.7,451.3 333.7,454.7 325,454.7" fill="#c3dd8b"/>
<circle cx="316.7" cy="450.8" r="2.6" fill="#c3dd8b" stroke="#6bba98" stroke-width="0.6" stroke-opacity="0.7"/>
<circle cx="321.3" cy="447.8" r="2.3" fill="#c3dd8b" stroke="#6bba98" stroke-width="0.6" stroke-opacity="0.7"/>
<polyline points="370,505 373.3,510.8 376.3,512 380.8,506.7 383.8,503" fill="none" stroke="#afd48e" stroke-width="2.2"/>
<polygon points="426.7,491.3 431.7,492.5 435.8,492.5 440,495 445.8,495.8 448.3,501.7 452.5,506.7 456.7,512.5 463.3,518.3 463.3,522.5 460,522.5 455,518.3 448.3,515 443.3,509.2 438.3,505 433.3,499.2 430,495" fill="#3d8bbd"/>
<polygon points="435,495 441.7,498.3 446.7,505 455,514.2 452.5,515.8 445,509.2 439.2,502.5" fill="#84c396" filter="url(#b1)"/>
<defs><clipPath id="clb"><polygon points="362.5,599.2 366.7,596.7 371.7,594.2 375.8,590 380.8,587.5 385,583.3 387.5,585.8 390.8,586.7 391.7,582.5 395,583.3 398.3,585.8 403.3,581.7 407.5,576.7 411.7,572.5 416.7,571.7 423.3,571.7 425,575 430,575 435.8,575.8 436.7,580 440,577.5 441.7,572.5 446.7,573.3 450.8,571.7 452.5,575.8 455.8,575.8 457.5,579.2 460.8,580 461.7,583.3 465,584.2 466.7,588.3 464.2,592.5 465,599.2 469.2,600 474.2,600.8 477.5,603.3 480,608.3 483.3,611.7 488.3,613.3 492.5,612.5 494.2,606.7 498.3,603.3 500,597.5 500.8,593.3 505,595.8 506.7,595 505.8,600 510,602.5 510.8,605 515.8,605 515.8,611.7 517.5,613.3 517.5,623.3 515.8,626.7 516.7,636.7 519.2,640 525,641.7 528.3,644.2 528.3,651.7 523.3,652.5 519.2,651.7 518.3,655 516.7,653.3 516.7,648.3 513.3,645 508.3,644.2 505,645.8 504.2,649.2 502.5,645.8 498.3,645 495,640.8 491.7,645.8 486.7,650 486.7,655 483.3,660 484.2,666.7 485.8,670 483.3,673.3 482.5,678.3 479.2,677.5 478.3,673.3 475,670 470.8,671.7 468.3,673.3 464.2,672.5 465,668.3 460,666.7 455,668.3 451.7,670.8 450,666.7 451.7,663.3 446.7,662.5 445,658.3 447.5,655 441.7,653.3 443.3,649.2 441.7,645 443.3,640.8 438.3,641.7 435.8,644.2 431.7,641.7 427.5,646.7 422.5,647.5 418.3,650 415,653.3 411.7,655 408.3,659.2 404.2,655.8 400.8,659.2 399.2,655 395,653.3 391.7,650.8 386.7,650.8 384.2,646.7 380,645 375.8,642.5 376.7,638.3 371.7,635.8 367.5,636.7 363.3,634.2 362.5,630 366.7,627.5 371.7,625 373.3,620 370,615.8 367.5,613.3 363.3,610.8 365,606.7 362.5,603.3"/></clipPath></defs>
<polygon points="362.5,599.2 366.7,596.7 371.7,594.2 375.8,590 380.8,587.5 385,583.3 387.5,585.8 390.8,586.7 391.7,582.5 395,583.3 398.3,585.8 403.3,581.7 407.5,576.7 411.7,572.5 416.7,571.7 423.3,571.7 425,575 430,575 435.8,575.8 436.7,580 440,577.5 441.7,572.5 446.7,573.3 450.8,571.7 452.5,575.8 455.8,575.8 457.5,579.2 460.8,580 461.7,583.3 465,584.2 466.7,588.3 464.2,592.5 465,599.2 469.2,600 474.2,600.8 477.5,603.3 480,608.3 483.3,611.7 488.3,613.3 492.5,612.5 494.2,606.7 498.3,603.3 500,597.5 500.8,593.3 505,595.8 506.7,595 505.8,600 510,602.5 510.8,605 515.8,605 515.8,611.7 517.5,613.3 517.5,623.3 515.8,626.7 516.7,636.7 519.2,640 525,641.7 528.3,644.2 528.3,651.7 523.3,652.5 519.2,651.7 518.3,655 516.7,653.3 516.7,648.3 513.3,645 508.3,644.2 505,645.8 504.2,649.2 502.5,645.8 498.3,645 495,640.8 491.7,645.8 486.7,650 486.7,655 483.3,660 484.2,666.7 485.8,670 483.3,673.3 482.5,678.3 479.2,677.5 478.3,673.3 475,670 470.8,671.7 468.3,673.3 464.2,672.5 465,668.3 460,666.7 455,668.3 451.7,670.8 450,666.7 451.7,663.3 446.7,662.5 445,658.3 447.5,655 441.7,653.3 443.3,649.2 441.7,645 443.3,640.8 438.3,641.7 435.8,644.2 431.7,641.7 427.5,646.7 422.5,647.5 418.3,650 415,653.3 411.7,655 408.3,659.2 404.2,655.8 400.8,659.2 399.2,655 395,653.3 391.7,650.8 386.7,650.8 384.2,646.7 380,645 375.8,642.5 376.7,638.3 371.7,635.8 367.5,636.7 363.3,634.2 362.5,630 366.7,627.5 371.7,625 373.3,620 370,615.8 367.5,613.3 363.3,610.8 365,606.7 362.5,603.3" fill="#e9f0a0"/>
<g clip-path="url(#clb)">
<polygon points="362.5,599.2 366.7,596.7 371.7,594.2 375.8,590 380.8,587.5 385,583.3 387.5,585.8 390.8,586.7 391.7,582.5 395,583.3 398.3,585.8 403.3,581.7 407.5,576.7 411.7,572.5 416.7,571.7 423.3,571.7 425,575 430,575 435.8,575.8 436.7,580 440,577.5 441.7,572.5 446.7,573.3 450.8,571.7 452.5,575.8 455.8,575.8 457.5,579.2 460.8,580 461.7,583.3 465,584.2 466.7,588.3 464.2,592.5 465,599.2 469.2,600 474.2,600.8 477.5,603.3 480,608.3 483.3,611.7 488.3,613.3 492.5,612.5 494.2,606.7 498.3,603.3 500,597.5 500.8,593.3 505,595.8 506.7,595 505.8,600 510,602.5 510.8,605 515.8,605 515.8,611.7 517.5,613.3 517.5,623.3 515.8,626.7 516.7,636.7 519.2,640 525,641.7 528.3,644.2 528.3,651.7 523.3,652.5 519.2,651.7 518.3,655 516.7,653.3 516.7,648.3 513.3,645 508.3,644.2 505,645.8 504.2,649.2 502.5,645.8 498.3,645 495,640.8 491.7,645.8 486.7,650 486.7,655 483.3,660 484.2,666.7 485.8,670 483.3,673.3 482.5,678.3 479.2,677.5 478.3,673.3 475,670 470.8,671.7 468.3,673.3 464.2,672.5 465,668.3 460,666.7 455,668.3 451.7,670.8 450,666.7 451.7,663.3 446.7,662.5 445,658.3 447.5,655 441.7,653.3 443.3,649.2 441.7,645 443.3,640.8 438.3,641.7 435.8,644.2 431.7,641.7 427.5,646.7 422.5,647.5 418.3,650 415,653.3 411.7,655 408.3,659.2 404.2,655.8 400.8,659.2 399.2,655 395,653.3 391.7,650.8 386.7,650.8 384.2,646.7 380,645 375.8,642.5 376.7,638.3 371.7,635.8 367.5,636.7 363.3,634.2 362.5,630 366.7,627.5 371.7,625 373.3,620 370,615.8 367.5,613.3 363.3,610.8 365,606.7 362.5,603.3" fill="none" stroke="#afd48e" stroke-width="8" filter="url(#b2)"/>
<polygon points="362.5,599.2 366.7,596.7 371.7,594.2 375.8,590 380.8,587.5 385,583.3 387.5,585.8 390.8,586.7 391.7,582.5 395,583.3 398.3,585.8 403.3,581.7 407.5,576.7 411.7,572.5 416.7,571.7 423.3,571.7 425,575 430,575 435.8,575.8 436.7,580 440,577.5 441.7,572.5 446.7,573.3 450.8,571.7 452.5,575.8 455.8,575.8 457.5,579.2 460.8,580 461.7,583.3 465,584.2 466.7,588.3 464.2,592.5 465,599.2 469.2,600 474.2,600.8 477.5,603.3 480,608.3 483.3,611.7 488.3,613.3 492.5,612.5 494.2,606.7 498.3,603.3 500,597.5 500.8,593.3 505,595.8 506.7,595 505.8,600 510,602.5 510.8,605 515.8,605 515.8,611.7 517.5,613.3 517.5,623.3 515.8,626.7 516.7,636.7 519.2,640 525,641.7 528.3,644.2 528.3,651.7 523.3,652.5 519.2,651.7 518.3,655 516.7,653.3 516.7,648.3 513.3,645 508.3,644.2 505,645.8 504.2,649.2 502.5,645.8 498.3,645 495,640.8 491.7,645.8 486.7,650 486.7,655 483.3,660 484.2,666.7 485.8,670 483.3,673.3 482.5,678.3 479.2,677.5 478.3,673.3 475,670 470.8,671.7 468.3,673.3 464.2,672.5 465,668.3 460,666.7 455,668.3 451.7,670.8 450,666.7 451.7,663.3 446.7,662.5 445,658.3 447.5,655 441.7,653.3 443.3,649.2 441.7,645 443.3,640.8 438.3,641.7 435.8,644.2 431.7,641.7 427.5,646.7 422.5,647.5 418.3,650 415,653.3 411.7,655 408.3,659.2 404.2,655.8 400.8,659.2 399.2,655 395,653.3 391.7,650.8 386.7,650.8 384.2,646.7 380,645 375.8,642.5 376.7,638.3 371.7,635.8 367.5,636.7 363.3,634.2 362.5,630 366.7,627.5 371.7,625 373.3,620 370,615.8 367.5,613.3 363.3,610.8 365,606.7 362.5,603.3" fill="none" stroke="#84c396" stroke-width="3" filter="url(#b1)"/>
<polygon points="401.7,571.7 425,570.8 438.3,573.3 451.7,570.8 468.3,585 466.7,600 451.7,595 438.3,588.3 423.3,583.3 415,586.7 405,588.3 395,585" fill="#84c396" filter="url(#b3)" opacity="1"/>
<polygon points="361.7,596.7 378.3,595 381.7,605 375,611.7 361.7,611.7" fill="#84c396" filter="url(#b2)" opacity="1"/>
<polygon points="491.7,613.3 495,605 500.8,593.3 516.7,605 518.3,625 516.7,638.3 528.3,643.3 528.3,653.3 511.7,645 495,641.7 490,628.3" fill="#84c396" filter="url(#b3)" opacity="1"/>
<polygon points="500,610 511.7,611.7 513.3,625 505,628.3 498.3,621.7" fill="#afd48e" filter="url(#b2)" opacity="1"/>
<polygon points="386.7,596.7 411.7,591.7 431.7,586.7 445,598.3 443.3,615 438.3,633.3 428.3,645 408.3,655 391.7,648.3 381.7,635 378.3,618.3" fill="#f6f8ae" filter="url(#b3)" opacity="1"/>
<polygon points="430,591.7 435,590.8 437.5,598.3 441.7,605 440,611.7 435.8,621.7 433.3,630 428.3,635 421.7,638.3 418.3,645 411.7,648.3 400,649.2 398.3,645 405,638.3 411.7,630 413.3,621.7 420,613.3 425,605 428.3,598.3" fill="#f3d985" filter="url(#b2)" opacity="1"/>
<polygon points="398.3,644.2 408.3,641.7 416.7,640 420,645 411.7,648.3 400,649.2" fill="#f0ba68" filter="url(#b2)" opacity="1"/>
<polygon points="425,628.3 433.3,626.7 435,633.3 428.3,635" fill="#f0ba68" filter="url(#b2)" opacity="1"/>
<polygon points="461.7,608.3 478.3,608.3 488.3,616.7 486.7,633.3 478.3,648.3 471.7,665 455,663.3 446.7,648.3 451.7,633.3 458.3,621.7" fill="#fbfab4" filter="url(#b3)" opacity="1"/>
<polygon points="467.5,613.3 476.7,615 483.3,615.8 484.2,621.7 478.3,626.7 473.3,633.3 465,635 458.3,638.3 451.7,636.7 455,630 461.7,625 465,618.3" fill="#f0ba68" filter="url(#b2)" opacity="1"/>
<polygon points="468.3,620 476.7,618.3 478.3,625 471.7,630 465,630" fill="#ee9a52" filter="url(#b2)" opacity="1"/>
<polygon points="453.3,645 468.3,645 471.7,655 461.7,658.3 451.7,653.3" fill="#f3d985" filter="url(#b2)" opacity="1"/>
<ellipse cx="452.8333333333333" cy="650.3333333333334" rx="1.8" ry="1.8" fill="#efad60" filter="url(#b1)" opacity="1" transform="rotate(0 452.8333333333333 650.3333333333334)"/>
<polygon points="449.2,608.3 455,606.7 460,608.3 459.2,616.7 455.8,625 450,628.3 444.2,626.7 443.3,620 445.8,613.3" fill="#84c396" filter="url(#b1)" opacity="1"/>
<polygon points="471.7,641.7 478.3,640.8 480.8,645 477.5,651.7 473.3,652.5 470,646.7" fill="#99cb92" filter="url(#b1)" opacity="1"/>
<rect x="355" y="565" width="180" height="120" fill="#fff" filter="url(#nz)" opacity="0.4"/>
<rect x="355" y="565" width="180" height="120" fill="#fff" filter="url(#nz2)" opacity="0.18"/>
</g>
<circle cx="355.0" cy="633.0" r="2.7" fill="#d9e794"/>
<polygon points="485.3,595.3 487.7,595.3 487.7,598.7 485.3,598.7" fill="#6bba98"/>
<polygon points="481.7,600.3 485,600.3 485,603.3 481.7,603.3" fill="#99cb92" stroke="#4296b2" stroke-width="0.6" stroke-opacity="0.7"/>
<polygon points="525.3,620 527.7,620 527.7,630.8 525.3,630.8" fill="#6bba98"/>
<polygon points="520.3,633 522.7,633 522.7,636.7 520.3,636.7" fill="#84c396"/>
<polygon points="527.2,655 528.8,655 528.8,659.2 527.2,659.2" fill="#99cb92"/>
<defs><clipPath id="cs1"><polygon points="625.7,551.8 627.7,549.7 628.3,545.5 632.5,544.4 635.6,544.9 637.7,546 640.3,544.9 642.4,542.8 644.5,544.9 649.2,544.9 651.3,546 653.4,547.6 658.6,548.1 661.8,547 663.9,549.2 666.5,550.8 667,553.9 668.1,557.1 669.1,560.8 672.3,561.4 675.4,560.8 678,562.4 678.5,564.5 675.4,564 673.3,564.5 675.4,567.2 677,568.8 677,572.5 674.3,573 672.3,574.6 670.2,573 667,574.6 664.9,572.5 661.8,574.1 660.7,577.3 658.1,577.8 656.5,575.7 655,579.4 652.4,579.9 651.3,577.8 648.2,577.8 645,575.1 644,572.5 641.4,572 638.7,571.4 638.2,568.8 635.6,567.7 633,564.5 631.4,561.9 629.8,560.8 629.3,562.9 627.7,562.4 628.1,559.8 629.8,557.1 632.5,556.1 635.1,556.1 633.5,553.9 631.4,551.8 629.3,552.3 627.7,553.9"/></clipPath></defs>
<polygon points="625.7,551.8 627.7,549.7 628.3,545.5 632.5,544.4 635.6,544.9 637.7,546 640.3,544.9 642.4,542.8 644.5,544.9 649.2,544.9 651.3,546 653.4,547.6 658.6,548.1 661.8,547 663.9,549.2 666.5,550.8 667,553.9 668.1,557.1 669.1,560.8 672.3,561.4 675.4,560.8 678,562.4 678.5,564.5 675.4,564 673.3,564.5 675.4,567.2 677,568.8 677,572.5 674.3,573 672.3,574.6 670.2,573 667,574.6 664.9,572.5 661.8,574.1 660.7,577.3 658.1,577.8 656.5,575.7 655,579.4 652.4,579.9 651.3,577.8 648.2,577.8 645,575.1 644,572.5 641.4,572 638.7,571.4 638.2,568.8 635.6,567.7 633,564.5 631.4,561.9 629.8,560.8 629.3,562.9 627.7,562.4 628.1,559.8 629.8,557.1 632.5,556.1 635.1,556.1 633.5,553.9 631.4,551.8 629.3,552.3 627.7,553.9" fill="#58ae9e"/>
<g clip-path="url(#cs1)">
<polygon points="625.7,551.8 627.7,549.7 628.3,545.5 632.5,544.4 635.6,544.9 637.7,546 640.3,544.9 642.4,542.8 644.5,544.9 649.2,544.9 651.3,546 653.4,547.6 658.6,548.1 661.8,547 663.9,549.2 666.5,550.8 667,553.9 668.1,557.1 669.1,560.8 672.3,561.4 675.4,560.8 678,562.4 678.5,564.5 675.4,564 673.3,564.5 675.4,567.2 677,568.8 677,572.5 674.3,573 672.3,574.6 670.2,573 667,574.6 664.9,572.5 661.8,574.1 660.7,577.3 658.1,577.8 656.5,575.7 655,579.4 652.4,579.9 651.3,577.8 648.2,577.8 645,575.1 644,572.5 641.4,572 638.7,571.4 638.2,568.8 635.6,567.7 633,564.5 631.4,561.9 629.8,560.8 629.3,562.9 627.7,562.4 628.1,559.8 629.8,557.1 632.5,556.1 635.1,556.1 633.5,553.9 631.4,551.8 629.3,552.3 627.7,553.9" fill="none" stroke="#3d8bbd" stroke-width="2.2" filter="url(#b1)"/>
<polygon points="635.6,547.6 650.3,546.5 662.8,550.8 667,562.4 662.8,570.9 652.4,576.2 644,570.9 638.7,562.4 634.6,553.9" fill="#84c396" filter="url(#b2)" opacity="1"/>
<polygon points="641.9,551.8 650.3,550.8 658.6,558.2 659.7,565.6 652.4,569.8 646.1,566.7 641.9,560.3" fill="#99cb92" filter="url(#b2)" opacity="1"/>
<polygon points="649.2,560.3 656.5,559.2 658.6,564.5 652.4,567.7" fill="#afd48e" filter="url(#b1)" opacity="1"/>
<polygon points="633.5,558.7 637.7,559.2 638.2,561.9 634.6,561.9" fill="#4b7dc0" filter="url(#b1)" opacity="1"/>
<polygon points="625.7,551.8 627.7,549.7 629.8,551.3 627.7,553.9" fill="#4b7dc0" filter="url(#b1)" opacity="1"/>
</g>
<polygon points="671.2,553.4 675.4,553.4 673.8,558.2 672.3,556.6" fill="#4ca3a5"/>
<polygon points="679.6,567.7 682.2,568.3 686.4,572 683.8,574.6 680.6,574.1 679.1,570.9" fill="#58ae9e"/>
</g>
<polygon points="666.8,477.4 671.5,472.7 676.2,477.4 671.5,482.09999999999997" fill="#000"/>
<rect x="148" y="72" width="800" height="800" fill="none" stroke="#000" stroke-width="2"/>
<rect x="329.3" y="872" width="2" height="11" fill="#000"/>
<rect x="601" y="872" width="2" height="11" fill="#000"/>
<rect x="872.5" y="872" width="2" height="11" fill="#000"/>
<rect x="137" y="105" width="11" height="2" fill="#000"/>
<rect x="137" y="282.5" width="11" height="2" fill="#000"/>
<rect x="137" y="460" width="11" height="2" fill="#000"/>
<rect x="137" y="637.5" width="11" height="2" fill="#000"/>
<rect x="137" y="815" width="11" height="2" fill="#000"/>
<text class="t" x="330.8" y="915" text-anchor="middle">−108</text>
<text class="t" x="602.5" y="915" text-anchor="middle">−107</text>
<text class="t" x="874.0" y="915" text-anchor="middle">−106</text>
<text class="t" x="128.5" y="115.8" text-anchor="end">41.5</text>
<text class="t" x="128.5" y="293.3" text-anchor="end">41.0</text>
<text class="t" x="128.5" y="470.8" text-anchor="end">40.5</text>
<text class="t" x="128.5" y="648.3" text-anchor="end">40.0</text>
<text class="t" x="128.5" y="825.8" text-anchor="end">39.5</text>
<text class="t" x="548" y="952.5" text-anchor="middle">Longitude</text>
<text class="t" transform="translate(58,471.6) rotate(-90)" text-anchor="middle">Latitude</text>
<text x="548" y="57.7" text-anchor="middle" style="font-size:28px;font-weight:bold">SEA-POL 20250213 2017-2019 UTC Composite Reflectivity</text>
<rect x="984" y="857.45" width="24" height="14.85" fill="#020103"/>
<rect x="984" y="842.91" width="24" height="14.85" fill="#0e0c13"/>
<rect x="984" y="828.36" width="24" height="14.85" fill="#181520"/>
<rect x="984" y="813.82" width="24" height="14.85" fill="#211c2e"/>
<rect x="984" y="799.27" width="24" height="14.85" fill="#29223b"/>
<rect x="984" y="784.73" width="24" height="14.85" fill="#302848"/>
<rect x="984" y="770.18" width="24" height="14.85" fill="#3a3058"/>
<rect x="984" y="755.64" width="24" height="14.85" fill="#423868"/>
<rect x="984" y="741.09" width="24" height="14.85" fill="#4a3f78"/>
<rect x="984" y="726.55" width="24" height="14.85" fill="#534688"/>
<rect x="984" y="712.00" width="24" height="14.85" fill="#5c4b96"/>
<rect x="984" y="697.45" width="24" height="14.85" fill="#6552a5"/>
<rect x="984" y="682.91" width="24" height="14.85" fill="#6560b0"/>
<rect x="984" y="668.36" width="24" height="14.85" fill="#5a72bd"/>
<rect x="984" y="653.82" width="24" height="14.85" fill="#4b7dc0"/>
<rect x="984" y="639.27" width="24" height="14.85" fill="#3d8bbd"/>
<rect x="984" y="624.73" width="24" height="14.85" fill="#4296b2"/>
<rect x="984" y="610.18" width="24" height="14.85" fill="#4ca3a5"/>
<rect x="984" y="595.64" width="24" height="14.85" fill="#58ae9e"/>
<rect x="984" y="581.09" width="24" height="14.85" fill="#6bba98"/>
<rect x="984" y="566.55" width="24" height="14.85" fill="#84c396"/>
<rect x="984" y="552.00" width="24" height="14.85" fill="#99cb92"/>
<rect x="984" y="537.45" width="24" height="14.85" fill="#afd48e"/>
<rect x="984" y="522.91" width="24" height="14.85" fill="#c3dd8b"/>
<rect x="984" y="508.36" width="24" height="14.85" fill="#d9e794"/>
<rect x="984" y="493.82" width="24" height="14.85" fill="#e9f0a0"/>
<rect x="984" y="479.27" width="24" height="14.85" fill="#f6f8ae"/>
<rect x="984" y="464.73" width="24" height="14.85" fill="#fbfab4"/>
<rect x="984" y="450.18" width="24" height="14.85" fill="#f6eaa0"/>
<rect x="984" y="435.64" width="24" height="14.85" fill="#f3d985"/>
<rect x="984" y="421.09" width="24" height="14.85" fill="#f1c870"/>
<rect x="984" y="406.55" width="24" height="14.85" fill="#f0ba68"/>
<rect x="984" y="392.00" width="24" height="14.85" fill="#efad60"/>
<rect x="984" y="377.45" width="24" height="14.85" fill="#ee9a52"/>
<rect x="984" y="362.91" width="24" height="14.85" fill="#ee8848"/>
<rect x="984" y="348.36" width="24" height="14.85" fill="#ec7540"/>
<rect x="984" y="333.82" width="24" height="14.85" fill="#e9653f"/>
<rect x="984" y="319.27" width="24" height="14.85" fill="#de5340"/>
<rect x="984" y="304.73" width="24" height="14.85" fill="#d44245"/>
<rect x="984" y="290.18" width="24" height="14.85" fill="#c83346"/>
<rect x="984" y="275.64" width="24" height="14.85" fill="#bb2446"/>
<rect x="984" y="261.09" width="24" height="14.85" fill="#ac1543"/>
<rect x="984" y="246.55" width="24" height="14.85" fill="#9b0050"/>
<rect x="984" y="232.00" width="24" height="14.85" fill="#a81a68"/>
<rect x="984" y="217.45" width="24" height="14.85" fill="#c42478"/>
<rect x="984" y="202.91" width="24" height="14.85" fill="#dc3f92"/>
<rect x="984" y="188.36" width="24" height="14.85" fill="#e265a8"/>
<rect x="984" y="173.82" width="24" height="14.85" fill="#e27fb3"/>
<rect x="984" y="159.27" width="24" height="14.85" fill="#df98cf"/>
<rect x="984" y="144.73" width="24" height="14.85" fill="#ad82c2"/>
<rect x="984" y="130.18" width="24" height="14.85" fill="#9d6bb0"/>
<rect x="984" y="115.64" width="24" height="14.85" fill="#8c4e9e"/>
<rect x="984" y="101.09" width="24" height="14.85" fill="#692373"/>
<rect x="984" y="86.55" width="24" height="14.85" fill="#52105e"/>
<rect x="984" y="72.00" width="24" height="14.85" fill="#3f0050"/>
<rect x="984" y="72" width="24" height="800" fill="none" stroke="#000" stroke-width="2"/>
<rect x="1008" y="871.00" width="11" height="2" fill="#000"/>
<text class="t" x="1026" y="881.80">−10</text>
<rect x="1008" y="798.27" width="11" height="2" fill="#000"/>
<text class="t" x="1026" y="809.07">−5</text>
<rect x="1008" y="725.55" width="11" height="2" fill="#000"/>
<text class="t" x="1026" y="736.35">0</text>
<rect x="1008" y="652.82" width="11" height="2" fill="#000"/>
<text class="t" x="1026" y="663.62">5</text>
<rect x="1008" y="580.09" width="11" height="2" fill="#000"/>
<text class="t" x="1026" y="590.89">10</text>
<rect x="1008" y="507.36" width="11" height="2" fill="#000"/>
<text class="t" x="1026" y="518.16">15</text>
<rect x="1008" y="434.64" width="11" height="2" fill="#000"/>
<text class="t" x="1026" y="445.44">20</text>
<rect x="1008" y="361.91" width="11" height="2" fill="#000"/>
<text class="t" x="1026" y="372.71">25</text>
<rect x="1008" y="289.18" width="11" height="2" fill="#000"/>
<text class="t" x="1026" y="299.98">30</text>
<rect x="1008" y="216.45" width="11" height="2" fill="#000"/>
<text class="t" x="1026" y="227.25">35</text>
<rect x="1008" y="143.73" width="11" height="2" fill="#000"/>
<text class="t" x="1026" y="154.53">40</text>
<rect x="1008" y="71.00" width="11" height="2" fill="#000"/>
<text class="t" x="1026" y="81.80">45</text>
<text class="t" transform="translate(1110,472) rotate(-90)" text-anchor="middle">dBZ</text>
</svg></body></html>
